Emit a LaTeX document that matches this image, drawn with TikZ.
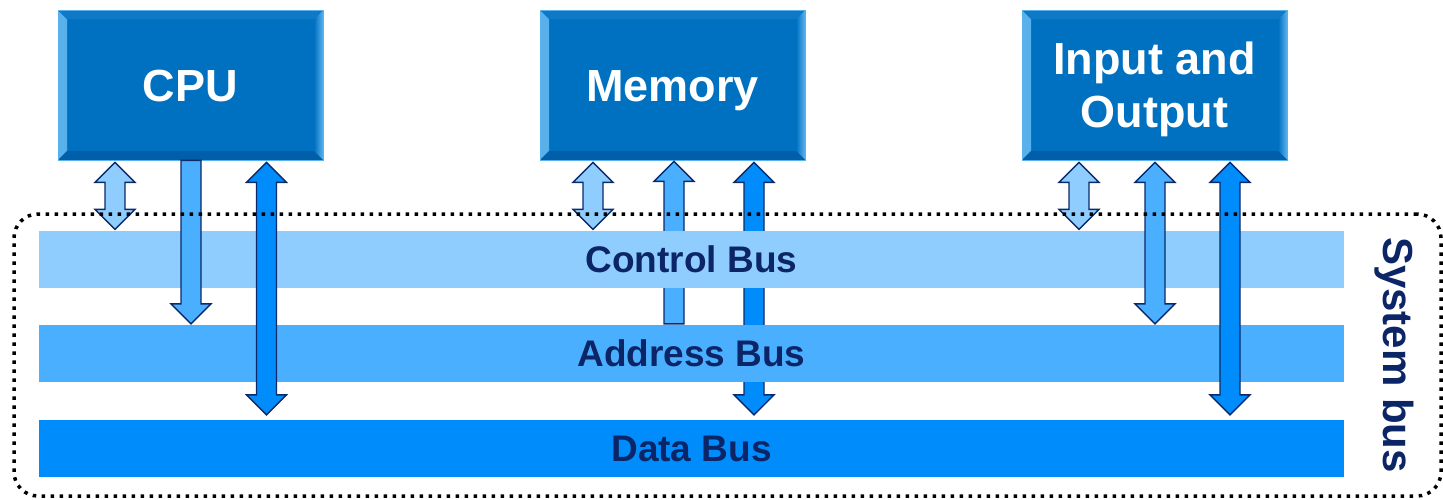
\documentclass[tikz,border=0pt]{standalone}
\usepackage{fontspec}
\setmainfont{Liberation Sans}
\usetikzlibrary{calc}
\definecolor{boxblue}{HTML}{0070C0}
\definecolor{bevlight}{HTML}{5AB2EC}
\definecolor{bevdark}{HTML}{005FA8}
\definecolor{ctrlc}{HTML}{8FCDFF}
\definecolor{addrc}{HTML}{4AAFFF}
\definecolor{datac}{HTML}{008CFA}
\definecolor{navy}{HTML}{0A2A6B}
\definecolor{txtnavy}{HTML}{0B2566}
\tikzset{
  unitbox/.style={fill=boxblue, draw=bevlight, line width=0.8pt,
    minimum width=265pt, minimum height=150pt, inner sep=0pt,
    text=white, align=center, font=\bfseries\fontsize{45}{53}\selectfont,
    text depth=0pt,
    path picture={
      \fill[left color=bevlight, right color=boxblue]
        (path picture bounding box.south west) -- (path picture bounding box.north west)
        -- ++(9,9) -- ($(path picture bounding box.south west)+(9,-9)$) -- cycle;
      \fill[left color=boxblue, right color=bevlight]
        (path picture bounding box.south east) -- (path picture bounding box.north east)
        -- ++(-9,9) -- ($(path picture bounding box.south east)+(-9,-9)$) -- cycle;
      \fill[bevdark]
        (path picture bounding box.south west) -- ++(9,-9)
        -- ($(path picture bounding box.south east)+(-9,-9)$)
        -- (path picture bounding box.south east) -- cycle;
      \fill[boxblue!85!bevlight]
        (path picture bounding box.north west) -- ++(9,9)
        -- ($(path picture bounding box.north east)+(-9,9)$)
        -- (path picture bounding box.north east) -- cycle;
    }},
  busbar/.style={minimum width=1305pt, minimum height=57pt, inner sep=0pt},
  buslabel/.style={minimum height=57pt, inner ysep=0pt, inner xsep=14pt,
    text=txtnavy, font=\bfseries\fontsize{37}{44}\selectfont},
  fatarrow/.style={draw=navy, line width=1.4pt, line join=miter},
  sysframe/.style={draw=black, line width=3.5pt, dash pattern=on 3.5pt off 5.5pt,
    rounded corners=24pt, minimum width=1427pt, minimum height=282pt, inner sep=0pt},
  syslabel/.style={text=txtnavy, rotate=-90, font=\bfseries\fontsize{42}{50}\selectfont}
}
\newcommand\fatdbl[5]{%
  \coordinate (fa) at ($(#2,0 |- #3)+(0,2)$);
  \coordinate (fb) at ($(#2,0 |- #4)+(0,-#5)$);
  \draw[fatarrow, fill=#1] (fa) -- ++(20,20) -- ++(-10,0) -- ($(fb)+(10,-20)$)
    -- ++(10,0) -- (fb) -- ++(-20,-20) -- ++(10,0) -- ($(fa)+(-10,20)$)
    -- ++(-10,0) -- cycle;}
\newcommand\fatdown[4]{%
  \coordinate (fa) at (#2,0 |- #3);
  \coordinate (fb) at ($(#2,0 |- #4)+(0,-1)$);
  \draw[fatarrow, fill=#1] ($(fa)+(-10,0)$) -- ++(20,0) -- ($(fb)+(10,-20)$)
    -- ++(10,0) -- (fb) -- ++(-20,-20) -- ++(10,0) -- cycle;}
\newcommand\fatup[4]{%
  \coordinate (fa) at ($(#2,0 |- #4)+(0,1)$);
  \coordinate (fb) at ($(#2,0 |- #3)+(0,-1)$);
  \draw[fatarrow, fill=#1] (fa) -- ++(20,20) -- ++(-10,0) -- ($(fb)+(10,0)$)
    -- ++(-20,0) -- ($(fa)+(-10,20)$) -- ++(-10,0) -- cycle;}
\begin{document}
\begin{tikzpicture}[x=1pt, y=-1pt]
\useasboundingbox (0,0) rectangle (1443,499);
% buses
\node[busbar, fill=ctrlc] (ctrl) at (691.5,259.5) {};
\node[busbar, fill=addrc] (addr) at (691.5,353.5) {};
\node[busbar, fill=datac] (data) at (691.5,448.5) {};
% units
\node[unitbox, text height=32pt] (cpu) at (190.5,85) {CPU};
\node[unitbox, text height=32pt] (mem) at (672.5,85) {Memory};
\node[unitbox, text height=85pt] (io) at (1154.5,85) {Input and\\Output};
% CPU connectors
\fatdbl{ctrlc}{115}{cpu.south}{ctrl.north}{1.5}
\fatdown{addrc}{191}{cpu.south}{addr.north}
\fatdbl{datac}{266.5}{cpu.south}{data.north}{5}
% Memory connectors
\fatdbl{ctrlc}{593}{mem.south}{ctrl.north}{1.5}
\fatup{addrc}{674}{addr.north}{mem.south}
\fatdbl{datac}{754}{mem.south}{data.north}{5}
% I/O connectors
\fatdbl{ctrlc}{1079}{io.south}{ctrl.north}{1.5}
\fatdbl{addrc}{1155}{io.south}{addr.north}{1}
\fatdbl{datac}{1230}{io.south}{data.north}{5}
% bus labels (cover the memory connectors)
\node[buslabel, fill=ctrlc] (ctrllbl) at (ctrl.center) {Control Bus};
\node[buslabel, fill=addrc] (addrlbl) at (addr.center) {Address Bus};
\node[buslabel, fill=datac] (datalbl) at (data.center) {Data Bus};
% system bus frame
\node[sysframe] (sys) at (727.5,355) {};
\node[syslabel] (syslbl) at (1394,355) {System bus};
\end{tikzpicture}
\end{document}
